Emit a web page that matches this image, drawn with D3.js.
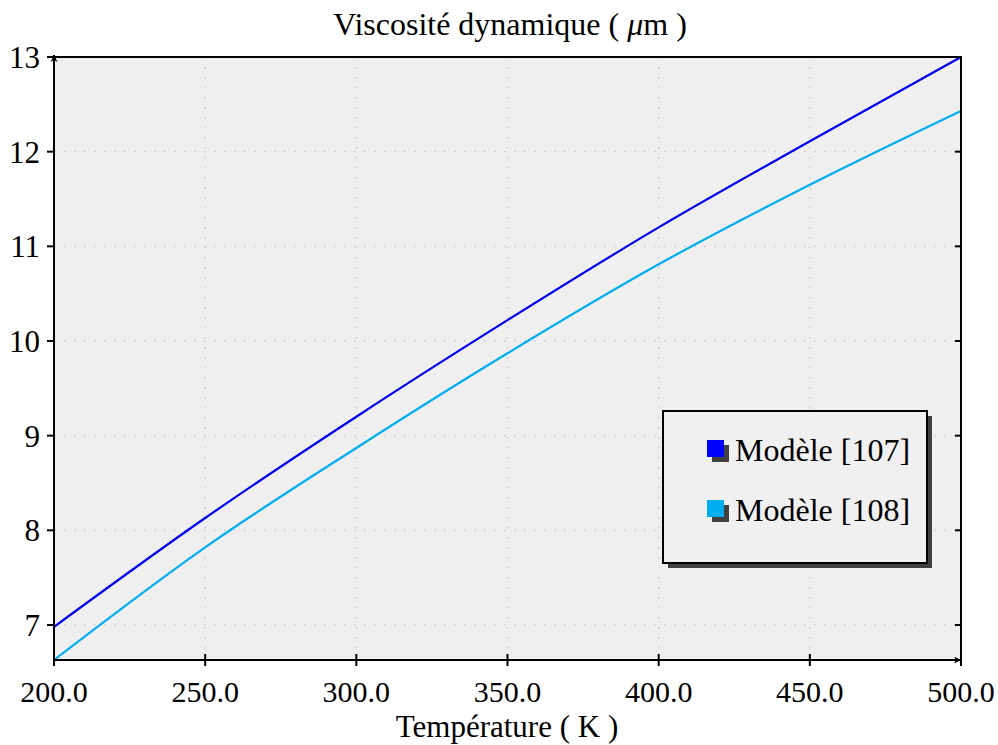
<!DOCTYPE html>
<html>
<head>
<meta charset="utf-8">
<script src="https://cdn.jsdelivr.net/npm/d3@7"></script>
<style>
  body { margin: 0; background: #fff; }
</style>
</head>
<body>
<svg id="chart" width="998" height="745"></svg>
<script>
let temps = [200, 250, 300, 350, 400, 450, 500];
let model107 = [6.98, 8.13, 9.20, 10.22, 11.20, 12.11, 13.0];
let model108 = [6.63, 7.82, 8.87, 9.87, 10.81, 11.65, 12.43];
let xTicks = [200, 250, 300, 350, 400, 450, 500];
let yTicks = [7, 8, 9, 10, 11, 12, 13];
let seriesNames = ["Modèle [107]", "Modèle [108]"];
let seriesColors = ["#0000ee", "#00aeef"];
let legendColors = ["#0000ff", "#00aeef"];

let pLeft = 54, pRight = 961, pTop = 57, pBottom = 660;
let serif = "'Liberation Serif'";

let x = d3.scaleLinear().domain([200, 500]).range([pLeft, pRight]);
let y = d3.scaleLinear().domain([6.63, 13]).range([pBottom, pTop]);

let svg = d3.select("#chart");

svg.append("defs").append("marker")
   .attr("id", "arrow")
   .attr("viewBox", "0 0 10 10")
   .attr("refX", 10).attr("refY", 5)
   .attr("markerWidth", 7).attr("markerHeight", 7)
   .attr("markerUnits", "userSpaceOnUse")
   .attr("orient", "auto")
   .append("path")
   .attr("d", "M0,0 L10,5 L0,10 L3,5 Z")
   .attr("fill", "#000");

// plot background
svg.append("rect")
   .attr("x", pLeft).attr("y", pTop)
   .attr("width", pRight - pLeft).attr("height", pBottom - pTop)
   .attr("fill", "#efefef");

// grid
svg.append("g").selectAll("line")
   .data(xTicks.slice(1, -1))
   .enter().append("line")
   .attr("x1", d => x(d)).attr("x2", d => x(d))
   .attr("y1", pTop).attr("y2", pBottom)
   .attr("stroke", "#c4c4c4").attr("stroke-width", 1.3)
   .attr("stroke-dasharray", "1.5,8.5");

svg.append("g").selectAll("line")
   .data(yTicks)
   .enter().append("line")
   .attr("x1", pLeft).attr("x2", pRight)
   .attr("y1", d => y(d)).attr("y2", d => y(d))
   .attr("stroke", "#c4c4c4").attr("stroke-width", 1.3)
   .attr("stroke-dasharray", "1.5,8.5");

// series
let line = d3.line()
             .x((d, i) => x(temps[i]))
             .y(d => y(d))
             .curve(d3.curveMonotoneX);

[model107, model108].forEach(function(s, k){
  svg.append("path")
     .datum(s)
     .attr("d", line)
     .attr("fill", "none")
     .attr("stroke", seriesColors[k])
     .attr("stroke-width", 2.2);
});

// frame
svg.append("line").attr("x1", pLeft).attr("x2", pRight).attr("y1", pTop).attr("y2", pTop)
   .attr("stroke", "#000").attr("stroke-width", 2);
svg.append("line").attr("x1", pRight).attr("x2", pRight).attr("y1", pTop - 1).attr("y2", pBottom + 6)
   .attr("stroke", "#000").attr("stroke-width", 2);
svg.append("line").attr("x1", pLeft).attr("x2", pLeft).attr("y1", pBottom + 6).attr("y2", pTop - 2)
   .attr("stroke", "#000").attr("stroke-width", 2).attr("marker-end", "url(#arrow)");
svg.append("line").attr("x1", pLeft).attr("x2", pRight).attr("y1", pBottom).attr("y2", pBottom)
   .attr("stroke", "#000").attr("stroke-width", 2).attr("marker-end", "url(#arrow)");

// x ticks
svg.append("g").selectAll("line")
   .data(xTicks.slice(1, -1))
   .enter().append("line")
   .attr("x1", d => x(d)).attr("x2", d => x(d))
   .attr("y1", pBottom - 6).attr("y2", pBottom + 6)
   .attr("stroke", "#000").attr("stroke-width", 2);

svg.append("g").selectAll("text")
   .data(xTicks)
   .enter().append("text")
   .attr("x", d => x(d))
   .attr("y", 702)
   .attr("text-anchor", "middle")
   .style("font-family", serif)
   .style("font-size", "30px")
   .text(d => d3.format(".1f")(d));

// y ticks
svg.append("g").selectAll("line")
   .data(yTicks)
   .enter().append("line")
   .attr("x1", pLeft - 7).attr("x2", pLeft)
   .attr("y1", d => y(d)).attr("y2", d => y(d))
   .attr("stroke", "#000").attr("stroke-width", 2);

svg.append("g").selectAll("line")
   .data(yTicks.slice(0, -1))
   .enter().append("line")
   .attr("x1", pRight - 6).attr("x2", pRight)
   .attr("y1", d => y(d)).attr("y2", d => y(d))
   .attr("stroke", "#000").attr("stroke-width", 2);

svg.append("g").selectAll("text")
   .data(yTicks)
   .enter().append("text")
   .attr("x", 40)
   .attr("y", d => y(d) + 11)
   .attr("text-anchor", "end")
   .style("font-family", serif)
   .style("font-size", "31px")
   .text(d => d);

// title and axis label
let title = svg.append("text")
   .attr("x", 510).attr("y", 35)
   .attr("text-anchor", "middle")
   .style("font-family", serif)
   .style("font-size", "32px");
title.append("tspan").text("Viscosité dynamique ( ");
title.append("tspan").style("font-style", "italic").text("μ");
title.append("tspan").text("m )");

svg.append("text")
   .attr("x", 507).attr("y", 737)
   .attr("text-anchor", "middle")
   .style("font-family", serif)
   .style("font-size", "31px")
   .text("Température ( K )");

// legend
let lg = svg.append("g");
lg.append("rect")
  .attr("x", 668).attr("y", 416).attr("width", 264).attr("height", 152)
  .attr("fill", "#404040");
lg.append("rect")
  .attr("x", 663).attr("y", 411).attr("width", 264).attr("height", 152)
  .attr("fill", "#f0f0f0").attr("stroke", "#000").attr("stroke-width", 2);

seriesNames.forEach(function(name, k){
  let yy = 440 + k * 60;
  lg.append("rect")
    .attr("x", 712).attr("y", yy + 5).attr("width", 17).attr("height", 17)
    .attr("fill", "#404040");
  lg.append("rect")
    .attr("x", 707).attr("y", yy).attr("width", 17).attr("height", 17)
    .attr("fill", legendColors[k]);
  lg.append("text")
    .attr("x", 735).attr("y", yy + 21)
    .style("font-family", serif)
    .style("font-size", "32px")
    .text(name);
});
</script>
</body>
</html>
